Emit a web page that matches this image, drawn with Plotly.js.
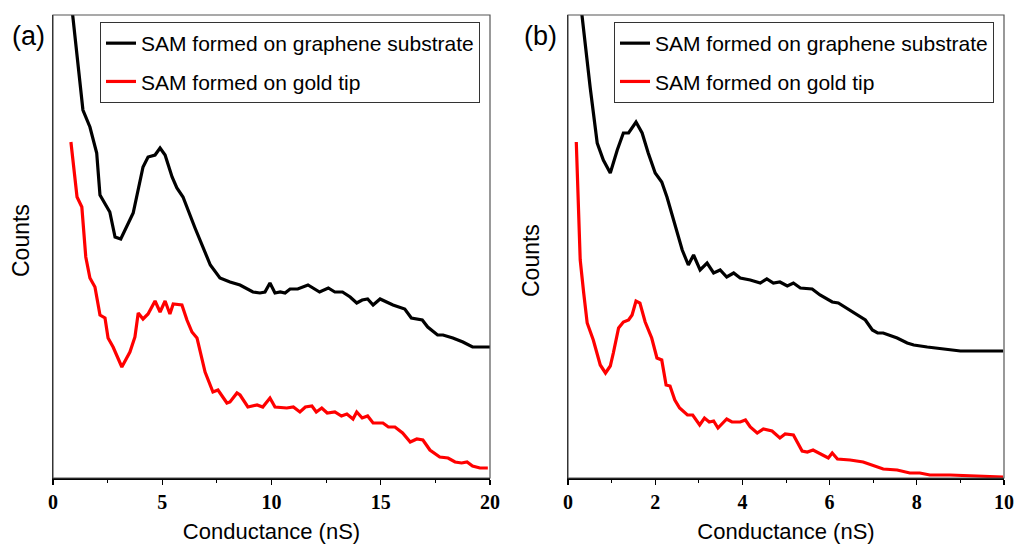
<!DOCTYPE html>
<html>
<head>
<meta charset="utf-8">
<script src="https://cdn.plot.ly/plotly-3.0.1.min.js"></script>
<style>html,body{margin:0;padding:0;background:#fff;}#chart{width:1017px;height:544px;}</style>
</head>
<body>
<div id="chart"></div>
<script>
// Panel (a): conductance (nS) and counts (arbitrary units)
const aGrapheneX = [0.85,0.9,1.37,1.69,2.0,2.15,2.6,2.84,3.1,3.67,4.12,4.35,4.67,4.9,5.13,5.45,5.67,5.95,6.5,7.2,7.64,8.1,8.56,9.15,9.47,9.7,9.93,10.16,10.4,10.62,10.85,11.2,11.67,12.2,12.6,12.9,13.25,13.6,13.9,14.15,14.4,14.65,14.97,15.25,15.56,16.1,16.4,16.9,17.15,17.6,17.85,18.3,18.76,19.2,20.0];
const aGrapheneY = [475,463,368,351,325,283,266,241,239,265,311,321,323,330,323,301,290,281,250,213,200,196,193,186,185,186,195,185,186,185,189,189,193,186,190,186,186,181,175,178,179,173,179,176,173,169,160,158,151,143,143,140,136,131,131];
const aGoldX = [0.82,1.1,1.32,1.5,1.69,1.92,2.15,2.38,2.52,2.75,3.15,3.52,3.75,3.9,4.12,4.35,4.67,4.9,5.13,5.35,5.5,5.9,6.13,6.36,6.59,6.73,6.96,7.32,7.55,7.96,8.1,8.42,8.56,8.92,9.34,9.6,9.93,10.16,10.7,11.0,11.3,11.55,11.85,12.05,12.3,12.55,12.9,13.2,13.45,13.73,13.9,14.15,14.4,14.65,15.1,15.35,15.65,16.0,16.35,16.65,16.93,17.25,17.7,18.08,18.4,18.7,18.95,19.2,19.54,19.9];
const aGoldY = [336,281,271,221,200,191,163,160,140,131,111,126,141,165,159,164,177,166,177,164,174,173,158,146,140,128,106,86,88,75,76,85,83,71,73,71,80,71,70,71,66,71,72,66,70,65,66,62,64,59,66,60,62,55,55,51,51,45,36,39,38,28,21,20,16,15,16,12,10,10];
// Panel (b)
const bGrapheneX = [0.3,0.32,0.51,0.67,0.81,0.97,1.13,1.27,1.39,1.56,1.7,1.84,2.0,2.15,2.27,2.42,2.62,2.76,2.88,3.03,3.19,3.34,3.49,3.64,3.8,3.95,4.18,4.41,4.56,4.71,4.86,5.03,5.17,5.33,5.6,5.78,6.06,6.2,6.47,6.82,6.98,7.1,7.23,7.55,7.78,7.93,8.24,8.61,9.0,9.52,9.98];
const bGrapheneY = [475,463,390,335,318,305,328,345,345,356,345,325,305,296,281,258,228,213,223,208,215,205,208,201,205,200,198,195,199,195,196,192,195,190,189,183,176,175,168,158,148,145,145,140,135,133,131,129,127,127,127];
const bGoldX = [0.19,0.28,0.36,0.44,0.58,0.74,0.86,0.97,1.04,1.16,1.27,1.39,1.47,1.56,1.65,1.77,1.92,2.04,2.15,2.25,2.34,2.45,2.56,2.74,2.86,3.02,3.13,3.24,3.34,3.44,3.64,3.76,3.95,4.07,4.18,4.34,4.48,4.68,4.86,4.98,5.17,5.37,5.49,5.62,5.97,6.06,6.18,6.47,6.77,7.1,7.23,7.55,7.84,8.07,8.3,8.76,9.22,9.52,9.98];
const bGoldY = [336,218,185,155,138,113,105,112,125,150,156,158,163,177,175,156,140,120,118,93,92,78,70,63,63,53,60,56,57,50,59,56,56,58,51,45,49,47,40,44,43,27,26,28,20,25,19,18,16,11,9,8,5,5,3,3,2,2,1];

const legendNames = ['SAM formed on graphene substrate','SAM formed on gold tip'];
const xTickVals_a = [0,5,10,15,20];
const xTickVals_b = [0,2,4,6,8,10];

const lineW = 3.2;
const traces = [
  {x:aGrapheneX,y:aGrapheneY,xaxis:'x',yaxis:'y',name:legendNames[0],mode:'lines',line:{color:'#000000',width:lineW},legend:'legend',legendgroup:'a1'},
  {x:aGoldX,y:aGoldY,xaxis:'x',yaxis:'y',name:legendNames[1],mode:'lines',line:{color:'#ff0000',width:lineW},legend:'legend',legendgroup:'a2'},
  {x:bGrapheneX,y:bGrapheneY,xaxis:'x2',yaxis:'y2',name:legendNames[0],mode:'lines',line:{color:'#000000',width:lineW},legend:'legend2',legendgroup:'b1'},
  {x:bGoldX,y:bGoldY,xaxis:'x2',yaxis:'y2',name:legendNames[1],mode:'lines',line:{color:'#ff0000',width:lineW},legend:'legend2',legendgroup:'b2'}
];

const W = 1017, H = 544;
const tickFont = {family:'Liberation Serif, serif', size:20, color:'#000', weight:'bold'};
const titleFont = {family:'Liberation Sans, Arial, sans-serif', size:22, color:'#000'};
const countsFont = {family:'Liberation Sans, Arial, sans-serif', size:23, color:'#000'};
function xax(domain, range, tv, minor){
  return {domain:domain, range:range, tickvals:tv, ticks:'outside', ticklen:5, tickwidth:1.2, tickcolor:'#000',
    showline:true, linecolor:'#000', linewidth:1.5, zeroline:false, showgrid:false, tickfont:tickFont,
    minor:{dtick:minor, ticks:'outside', ticklen:3, tickcolor:'#000', tickwidth:1},
    title:{text:'Conductance (nS)', font:titleFont, standoff:12}, fixedrange:true};
}
function yax(anchor){
  return {domain:[0,1], range:[0,463], showticklabels:false, ticks:'', showline:true, linecolor:'#000', linewidth:1.5,
    zeroline:false, showgrid:false, anchor:anchor, fixedrange:true};
}
const legendCommon = {font:{family:'Liberation Sans, Arial, sans-serif', size:21, color:'#000'}, bordercolor:'#333', borderwidth:1,
  bgcolor:'rgba(255,255,255,0)', xref:'paper', yref:'paper', xanchor:'left', yanchor:'top', tracegroupgap:8, traceorder:'grouped', itemwidth:30};
const layout = {
  width:W, height:H, margin:{l:0,r:0,t:15,b:66}, paper_bgcolor:'#fff', plot_bgcolor:'#fff', showlegend:true,
  xaxis: xax([53/W, 490/W],[0,20], xTickVals_a, 2.5),
  xaxis2: xax([568/W, 1004/W],[0,10], xTickVals_b, 1),
  yaxis: yax('x'),
  yaxis2: yax('x2'),
  legend: Object.assign({}, legendCommon, {x:100/W, y:(478-22)/463}),
  legend2: Object.assign({}, legendCommon, {x:614/W, y:(478-22)/463}),
  shapes:[
    {type:'rect', xref:'x domain', yref:'y domain', x0:0, x1:1, y0:0, y1:1, line:{color:'#555', width:1.2}},
    {type:'rect', xref:'x2 domain', yref:'y2 domain', x0:0, x1:1, y0:0, y1:1, line:{color:'#555', width:1.2}}
  ],
  annotations:[
    {text:'(a)', xref:'paper', yref:'paper', x:10/W, y:(478-36)/463, xanchor:'left', yanchor:'middle', showarrow:false, font:{family:'Liberation Sans, Arial, sans-serif', size:27, color:'#000'}},
    {text:'(b)', xref:'paper', yref:'paper', x:522/W, y:(478-36)/463, xanchor:'left', yanchor:'middle', showarrow:false, font:{family:'Liberation Sans, Arial, sans-serif', size:27, color:'#000'}},
    {text:'Counts', xref:'paper', yref:'paper', x:21/W, y:(478-241)/463, textangle:-90, xanchor:'center', yanchor:'middle', showarrow:false, font:countsFont},
    {text:'Counts', xref:'paper', yref:'paper', x:531/W, y:(478-261)/463, textangle:-90, xanchor:'center', yanchor:'middle', showarrow:false, font:countsFont}
  ]
};
Plotly.newPlot('chart', traces, layout, {displayModeBar:false, staticPlot:true});
</script>
</body>
</html>
